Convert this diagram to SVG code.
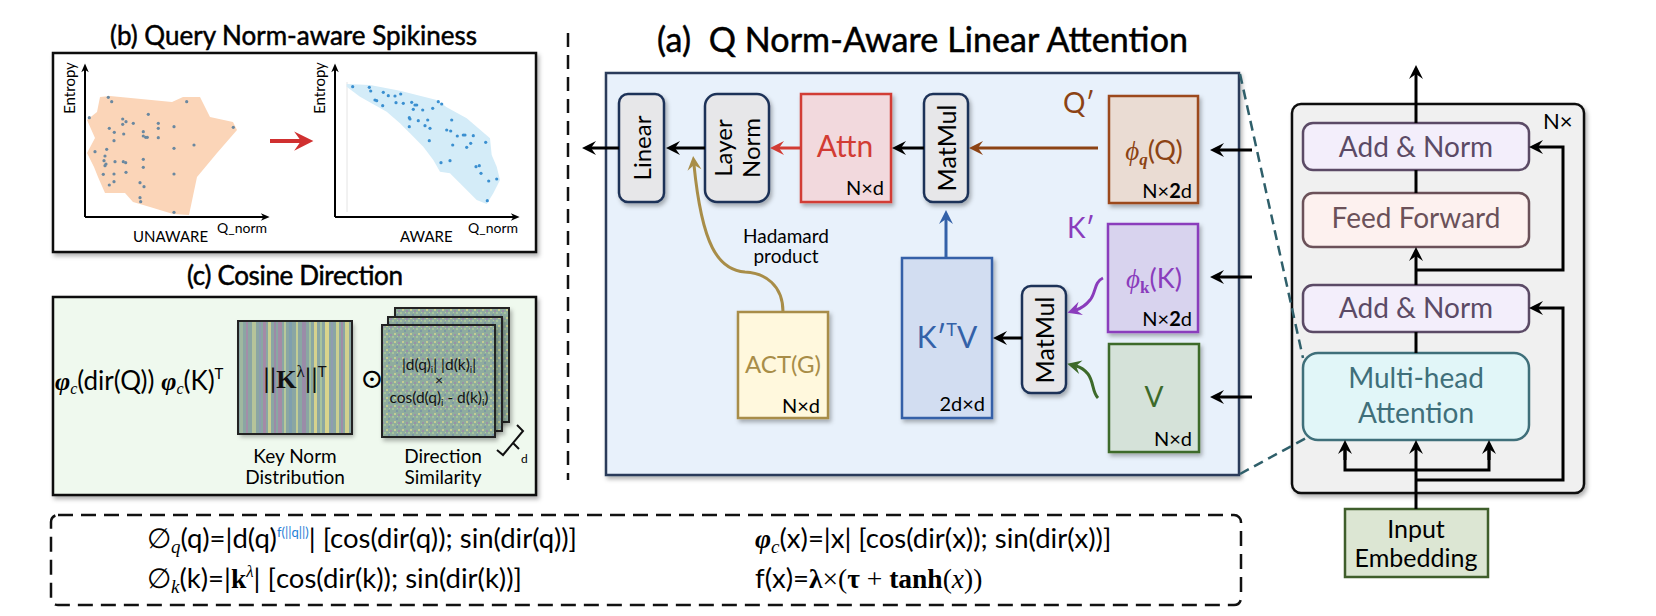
<svg xmlns="http://www.w3.org/2000/svg" width="1656" height="616" viewBox="0 0 1656 616">
<defs>
<filter id="sh" x="-15%" y="-15%" width="140%" height="140%"><feDropShadow dx="2" dy="3" stdDeviation="2" flood-color="#000" flood-opacity="0.3"/></filter>
<marker id="ak" viewBox="0 0 16 16" refX="6" refY="8" markerWidth="16" markerHeight="16" orient="auto" markerUnits="userSpaceOnUse"><path d="M1,1 L15,8 L1,15 L6,8 z" fill="#000"/></marker>
<marker id="ar" viewBox="0 0 16 16" refX="6" refY="8" markerWidth="16" markerHeight="16" orient="auto" markerUnits="userSpaceOnUse"><path d="M1,1 L15,8 L1,15 L6,8 z" fill="#d23c34"/></marker>
<marker id="abr" viewBox="0 0 16 16" refX="6" refY="8" markerWidth="16" markerHeight="16" orient="auto" markerUnits="userSpaceOnUse"><path d="M1,1 L15,8 L1,15 L6,8 z" fill="#8c4314"/></marker>
<marker id="abl" viewBox="0 0 16 16" refX="6" refY="8" markerWidth="16" markerHeight="16" orient="auto" markerUnits="userSpaceOnUse"><path d="M1,1 L15,8 L1,15 L6,8 z" fill="#3461a8"/></marker>
<marker id="ap" viewBox="0 0 16 16" refX="6" refY="8" markerWidth="16" markerHeight="16" orient="auto" markerUnits="userSpaceOnUse"><path d="M1,1 L15,8 L1,15 L6,8 z" fill="#8a3cbc"/></marker>
<marker id="ag" viewBox="0 0 16 16" refX="6" refY="8" markerWidth="16" markerHeight="16" orient="auto" markerUnits="userSpaceOnUse"><path d="M1,1 L15,8 L1,15 L6,8 z" fill="#3d6a2a"/></marker>
<marker id="ay" viewBox="0 0 16 16" refX="6" refY="8" markerWidth="16" markerHeight="16" orient="auto" markerUnits="userSpaceOnUse"><path d="M1,1 L15,8 L1,15 L6,8 z" fill="#a88d48"/></marker>
<marker id="as" viewBox="0 0 16 16" refX="6" refY="8" markerWidth="10" markerHeight="10" orient="auto" markerUnits="userSpaceOnUse"><path d="M1,2 L15,8 L1,14 L5,8 z" fill="#000"/></marker>
<marker id="ared" viewBox="0 0 16 16" refX="6" refY="8" markerWidth="22" markerHeight="22" orient="auto" markerUnits="userSpaceOnUse"><path d="M1,1 L15,8 L1,15 L6,8 z" fill="#d03030"/></marker>
<pattern id="noise" width="8" height="8" patternUnits="userSpaceOnUse">
<rect width="8" height="8" fill="#8fac9e"/>
<rect x="0" y="0" width="2" height="2" fill="#a7c39b"/>
<rect x="4" y="2" width="2" height="2" fill="#7d97a6"/>
<rect x="2" y="5" width="2" height="2" fill="#c4cd92"/>
<rect x="6" y="6" width="2" height="2" fill="#9a90a8"/>
<rect x="5" y="0" width="1" height="1" fill="#b3c99c"/>
</pattern>
</defs>
<style>
.f{font-family:Lato,"Liberation Sans",sans-serif}
.m{font-family:"Liberation Serif","DejaVu Serif",serif}
.ttl{stroke:#000;stroke-width:0.5}
.ln{fill:none;stroke-width:3}
.gb{fill:#e7e7e9;stroke:#1f3358;stroke-width:2.5}
.an{fill:#f3eefb;stroke:#5b4a66;stroke-width:2.5}
.ant{fill:#5b4a66;font-size:28px}
.dot1{fill:#6a88a0}
.dot2{fill:#3a8fd0}
</style>
<rect width="1656" height="616" fill="#fff"/>

<!-- Titles -->
<text class="f ttl" x="110" y="45" font-size="26" textLength="367">(b) Query Norm-aware Spikiness</text>
<text class="f ttl" x="187" y="285" font-size="26" textLength="216">(c) Cosine Direction</text>
<text class="f ttl" x="657" y="52" font-size="34" textLength="531" xml:space="preserve">(a)  Q Norm-Aware Linear Attention</text>

<!-- divider -->
<line x1="568" y1="33" x2="568" y2="480" stroke="#111" stroke-width="2.5" stroke-dasharray="14 8"/>

<!-- Panel b -->
<g id="panel-b">
<rect x="53" y="53" width="483" height="199" fill="#fff" stroke="#111" stroke-width="2.5" filter="url(#sh)"/>
<polygon fill="#fbd5b8" points="100,97 110,96 172,102 183,97 200,97 210,117 233,122 237,130 217,153 197,177 189,215 173,214 150,207 133,202 125,193 105,193 98,177 94,167 87,153 95,138 87,120 97,112"/>
<g class="dot1">
<circle cx="108.3" cy="97.3" r="1.6"/><circle cx="111.7" cy="101.7" r="1.6"/><circle cx="89.3" cy="117.7" r="1.6"/><circle cx="186.7" cy="101.7" r="1.6"/><circle cx="148.3" cy="114.3" r="1.6"/><circle cx="122.7" cy="119" r="1.6"/><circle cx="126" cy="121.7" r="1.6"/><circle cx="122.7" cy="124.3" r="1.6"/><circle cx="133.3" cy="123.3" r="1.6"/><circle cx="158.3" cy="123.3" r="1.6"/><circle cx="158.3" cy="128.3" r="1.6"/><circle cx="174" cy="126.7" r="1.6"/><circle cx="233.3" cy="127.3" r="1.6"/><circle cx="109.3" cy="128.3" r="1.6"/><circle cx="114.3" cy="132.3" r="1.6"/><circle cx="123.7" cy="134" r="1.6"/><circle cx="143.3" cy="131.7" r="1.6"/><circle cx="145.7" cy="137.3" r="1.6"/><circle cx="143.3" cy="136" r="1.6"/><circle cx="147.3" cy="137.3" r="1.6"/><circle cx="158.3" cy="137.7" r="1.6"/><circle cx="114" cy="140.7" r="1.6"/><circle cx="174" cy="148.3" r="1.6"/><circle cx="194" cy="145" r="1.6"/><circle cx="95" cy="151.7" r="1.6"/><circle cx="106.7" cy="149.3" r="1.6"/><circle cx="105" cy="156" r="1.6"/><circle cx="104" cy="160.7" r="1.6"/><circle cx="106" cy="164" r="1.6"/><circle cx="105" cy="165.7" r="1.6"/><circle cx="115" cy="161.7" r="1.6"/><circle cx="123.3" cy="161.7" r="1.6"/><circle cx="125.7" cy="162.7" r="1.6"/><circle cx="143.3" cy="159.3" r="1.6"/><circle cx="143.3" cy="167.3" r="1.6"/><circle cx="103.3" cy="174.3" r="1.6"/><circle cx="114" cy="174" r="1.6"/><circle cx="126" cy="172.3" r="1.6"/><circle cx="174" cy="174" r="1.6"/><circle cx="114" cy="181.7" r="1.6"/><circle cx="109.3" cy="185" r="1.6"/><circle cx="140" cy="182.7" r="1.6"/><circle cx="144" cy="186.7" r="1.6"/><circle cx="140" cy="197.7" r="1.6"/><circle cx="140.7" cy="201.7" r="1.6"/><circle cx="174" cy="212.3" r="1.6"/>
</g>
<line x1="85" y1="217" x2="264" y2="217" stroke="#000" stroke-width="2" marker-end="url(#as)"/>
<line x1="85" y1="217" x2="85" y2="69" stroke="#000" stroke-width="2" marker-end="url(#as)"/>
<text class="f" transform="translate(75,88) rotate(-90)" text-anchor="middle" font-size="15">Entropy</text>
<text class="f" x="133" y="242" font-size="15">UNAWARE</text>
<text class="f" x="217" y="233" font-size="14">Q_norm</text>
<line x1="270" y1="141" x2="301" y2="141" stroke="#d03030" stroke-width="4" marker-end="url(#ared)"/>
<line x1="347" y1="82" x2="347" y2="212" stroke="#e4e4e4" stroke-width="1"/>
<polygon fill="#d4ecf8" points="346.7,84 370,85 400,90.7 436.7,100 446.7,107.3 466.7,118.3 490,138.3 491.7,155 496.7,166.7 500,180 493.3,193.3 486.7,204 476.7,200 460,183.3 450,173.3 440,171.7 433.3,160 423.3,146.7 410,133.3 400,123.3 386.7,111.7 360,96.7 346.7,86.7"/>
<g class="dot2">
<circle cx="352.7" cy="86.7" r="1.6"/><circle cx="369.3" cy="87.3" r="1.6"/><circle cx="370.7" cy="91" r="1.6"/><circle cx="383.3" cy="92.3" r="1.6"/><circle cx="388.3" cy="95.7" r="1.6"/><circle cx="395" cy="96" r="1.6"/><circle cx="400.7" cy="94" r="1.6"/><circle cx="375" cy="100" r="1.6"/><circle cx="376.7" cy="100.7" r="1.6"/><circle cx="382.7" cy="105.7" r="1.6"/><circle cx="396" cy="102.7" r="1.6"/><circle cx="403.3" cy="103.3" r="1.6"/><circle cx="411.7" cy="102.3" r="1.6"/><circle cx="415" cy="105" r="1.6"/><circle cx="416.7" cy="105" r="1.6"/><circle cx="413.3" cy="109.3" r="1.6"/><circle cx="422.7" cy="110" r="1.6"/><circle cx="432.7" cy="108.3" r="1.6"/><circle cx="438.3" cy="101.7" r="1.6"/><circle cx="441.7" cy="104" r="1.6"/><circle cx="409.3" cy="117.7" r="1.6"/><circle cx="410" cy="119" r="1.6"/><circle cx="418.3" cy="120.7" r="1.6"/><circle cx="427.7" cy="120" r="1.6"/><circle cx="451.7" cy="120" r="1.6"/><circle cx="409.3" cy="126.7" r="1.6"/><circle cx="425" cy="125.7" r="1.6"/><circle cx="430" cy="128.3" r="1.6"/><circle cx="446.7" cy="130" r="1.6"/><circle cx="450.7" cy="131" r="1.6"/><circle cx="429.3" cy="140.7" r="1.6"/><circle cx="457.3" cy="136" r="1.6"/><circle cx="463.3" cy="135" r="1.6"/><circle cx="465" cy="135" r="1.6"/><circle cx="473.3" cy="135.7" r="1.6"/><circle cx="452.7" cy="145" r="1.6"/><circle cx="470.7" cy="143.3" r="1.6"/><circle cx="466.7" cy="147.3" r="1.6"/><circle cx="485.7" cy="142.3" r="1.6"/><circle cx="441" cy="162.7" r="1.6"/><circle cx="450" cy="160.7" r="1.6"/><circle cx="476" cy="166.7" r="1.6"/><circle cx="479.3" cy="165.7" r="1.6"/><circle cx="481" cy="173.3" r="1.6"/><circle cx="488.7" cy="181" r="1.6"/><circle cx="496.7" cy="179" r="1.6"/><circle cx="487.3" cy="200.7" r="1.6"/>
</g>
<line x1="335" y1="217" x2="335" y2="69" stroke="#000" stroke-width="2" marker-end="url(#as)"/>
<line x1="335" y1="217" x2="514" y2="217" stroke="#000" stroke-width="2" marker-end="url(#as)"/>
<text class="f" transform="translate(325,88) rotate(-90)" text-anchor="middle" font-size="15">Entropy</text>
<text class="f" x="400" y="242" font-size="15">AWARE</text>
<text class="f" x="468" y="233" font-size="14">Q_norm</text>
</g>

<!-- Panel c -->
<g id="panel-c">
<rect x="53" y="297" width="483" height="198" fill="#eff9ee" stroke="#111" stroke-width="2.5" filter="url(#sh)"/>
<text class="f" x="55" y="390" font-size="26"><tspan class="m" font-weight="bold" font-style="italic">φ</tspan><tspan class="m" font-style="italic" font-size="16" dy="4">c</tspan><tspan dy="-4">(dir(Q)) </tspan><tspan class="m" font-weight="bold" font-style="italic">φ</tspan><tspan class="m" font-style="italic" font-size="16" dy="4">c</tspan><tspan dy="-4">(K)</tspan><tspan font-size="15" dy="-11">T</tspan></text>
<g id="keynorm">
<rect x="238" y="321" width="114" height="113" fill="#8aa6a3" filter="url(#sh)"/>
<rect x="240" y="321" width="3" height="113" fill="#9fb8a0"/>
<rect x="246" y="321" width="2" height="113" fill="#a38ea8"/>
<rect x="252" y="321" width="4" height="113" fill="#b5c49a"/>
<rect x="259" y="321" width="2" height="113" fill="#8c9db0"/>
<rect x="263" y="321" width="3" height="113" fill="#a48ba6"/>
<rect x="268" y="321" width="3" height="113" fill="#c9cf92"/>
<rect x="274" y="321" width="2" height="113" fill="#9c8aa6"/>
<rect x="278" y="321" width="4" height="113" fill="#a48ba6"/>
<rect x="284" y="321" width="2" height="113" fill="#b8c89a"/>
<rect x="289" y="321" width="3" height="113" fill="#7f9fae"/>
<rect x="296" y="321" width="2" height="113" fill="#c2cc95"/>
<rect x="302" y="321" width="4" height="113" fill="#9a8ca8"/>
<rect x="309" y="321" width="2" height="113" fill="#a7c29a"/>
<rect x="314" y="321" width="3" height="113" fill="#d6d28e"/>
<rect x="320" y="321" width="2" height="113" fill="#a9c39d"/>
<rect x="325" y="321" width="4" height="113" fill="#d9d48c"/>
<rect x="331" y="321" width="2" height="113" fill="#8f9db0"/>
<rect x="336" y="321" width="3" height="113" fill="#cbd090"/>
<rect x="341" y="321" width="2" height="113" fill="#a08da7"/>
<rect x="345" y="321" width="4" height="113" fill="#d2d18e"/>
<rect x="238" y="321" width="114" height="113" fill="none" stroke="#222" stroke-width="2"/>
<text x="295" y="388" text-anchor="middle" font-size="26" fill="#111"><tspan class="f">||</tspan><tspan class="m" font-weight="bold">K</tspan><tspan class="m" font-size="17" dy="-11">λ</tspan><tspan class="f" dy="11">||</tspan><tspan class="f" font-size="15" dy="-11">T</tspan></text>
</g>
<text class="m" x="372" y="388" text-anchor="middle" font-size="28">⊙</text>
<g id="dirsim">
<rect x="395" y="308" width="114" height="114" fill="url(#noise)" stroke="#222" stroke-width="2" filter="url(#sh)"/>
<rect x="388" y="317" width="114" height="114" fill="url(#noise)" stroke="#222" stroke-width="2" filter="url(#sh)"/>
<rect x="382" y="325" width="113" height="112" fill="url(#noise)" stroke="#222" stroke-width="2" filter="url(#sh)"/>
<text class="f" x="439" y="370" text-anchor="middle" font-size="15.5" fill="#111">|d(q)<tspan font-size="10" dy="3">i</tspan><tspan dy="-3">| |d(k)</tspan><tspan font-size="10" dy="3">i</tspan><tspan dy="-3">|</tspan></text>
<text class="f" x="439" y="385" text-anchor="middle" font-size="14" fill="#111">×</text>
<text class="f" x="439" y="403" text-anchor="middle" font-size="15.5" fill="#111">cos(d(q)<tspan font-size="10" dy="3">i</tspan><tspan dy="-3"> - d(k)</tspan><tspan font-size="10" dy="3">i</tspan><tspan dy="-3">)</tspan></text>
<path d="M517,425 L523,431 L503,455 L497,450 M513,443 L519,449" fill="none" stroke="#111" stroke-width="2"/>
<text class="f" x="521" y="463" font-size="12">d</text>
</g>
<text class="f" x="295" y="463" text-anchor="middle" font-size="19">Key Norm</text>
<text class="f" x="295" y="484" text-anchor="middle" font-size="19">Distribution</text>
<text class="f" x="443" y="463" text-anchor="middle" font-size="19">Direction</text>
<text class="f" x="443" y="484" text-anchor="middle" font-size="19">Similarity</text>
</g>

<!-- Panel a -->
<g id="panel-a">
<rect x="606" y="73" width="633" height="402" fill="#e8f1fb" stroke="#2a3b5a" stroke-width="2.5" filter="url(#sh)"/>
</g>
<g id="linear">
<rect x="619" y="94" width="45" height="108" rx="9" class="gb" filter="url(#sh)"/>
<text class="f" transform="translate(651,148) rotate(-90)" text-anchor="middle" font-size="24">Linear</text>
</g>
<g id="layernorm">
<rect x="705" y="94" width="64" height="108" rx="12" class="gb" filter="url(#sh)"/>
<text class="f" transform="translate(732,148) rotate(-90)" text-anchor="middle" font-size="24">Layer</text>
<text class="f" transform="translate(760,148) rotate(-90)" text-anchor="middle" font-size="24">Norm</text>
</g>
<g id="attn">
<rect x="801" y="94" width="90" height="108" fill="#f2d9dd" stroke="#d23c34" stroke-width="2.5" filter="url(#sh)"/>
<text class="f" x="845" y="157" text-anchor="middle" font-size="30" fill="#d23c34">Attn</text>
<text class="f" x="884" y="195" text-anchor="end" font-size="20">N×d</text>
</g>
<g id="matmul1">
<rect x="924" y="94" width="44" height="108" rx="9" class="gb" filter="url(#sh)"/>
<text class="f" transform="translate(956,148) rotate(-90)" text-anchor="middle" font-size="25">MatMul</text>
</g>
<g id="phiq">
<text class="f" x="1063" y="113" font-size="28" fill="#8c4314">Q′</text>
<rect x="1109" y="96" width="89" height="107" fill="#eadcd3" stroke="#9c4a1c" stroke-width="2.5" filter="url(#sh)"/>
<text x="1154" y="160" text-anchor="middle" font-size="27" fill="#8c4314"><tspan class="m" font-style="italic">ϕ</tspan><tspan class="m" font-weight="bold" font-style="italic" font-size="17" dy="5">q</tspan><tspan class="f" dy="-5">(Q)</tspan></text>
<text class="f" x="1192" y="198" text-anchor="end" font-size="20">N×<tspan font-weight="bold">2</tspan>d</text>
</g>
<g id="phik">
<text class="f" x="1067" y="238" font-size="28" fill="#8a3cbc">K′</text>
<rect x="1108" y="224" width="90" height="108" fill="#d8d3ee" stroke="#8a3cbc" stroke-width="2.5" filter="url(#sh)"/>
<text x="1154" y="288" text-anchor="middle" font-size="27" fill="#8a3cbc"><tspan class="m" font-style="italic">ϕ</tspan><tspan class="m" font-weight="bold" font-size="17" dy="5">k</tspan><tspan class="f" dy="-5">(K)</tspan></text>
<text class="f" x="1192" y="326" text-anchor="end" font-size="20">N×<tspan font-weight="bold">2</tspan>d</text>
</g>
<g id="v">
<rect x="1109" y="344" width="90" height="108" fill="#d5e2d9" stroke="#3d6a2a" stroke-width="2.5" filter="url(#sh)"/>
<text class="f" x="1154" y="407" text-anchor="middle" font-size="28" fill="#3d6a2a">V</text>
<text class="f" x="1192" y="446" text-anchor="end" font-size="20">N×d</text>
</g>
<g id="matmul2">
<rect x="1022" y="286" width="44" height="107" rx="9" class="gb" filter="url(#sh)"/>
<text class="f" transform="translate(1054,340) rotate(-90)" text-anchor="middle" font-size="25">MatMul</text>
</g>
<g id="ktv">
<rect x="902" y="258" width="90" height="160" fill="#d2ddf1" stroke="#3461a8" stroke-width="2.5" filter="url(#sh)"/>
<text class="f" x="947" y="348" text-anchor="middle" font-size="30" fill="#3461a8">K′<tspan font-size="18" dy="-12">T</tspan><tspan dy="12">V</tspan></text>
<text class="f" x="985" y="411" text-anchor="end" font-size="20">2d×d</text>
</g>
<g id="actg">
<rect x="738" y="312" width="90" height="106" fill="#fff8dd" stroke="#a88d48" stroke-width="2.5" filter="url(#sh)"/>
<text class="f" x="783" y="373" text-anchor="middle" font-size="24" fill="#a88d48">ACT(G)</text>
<text class="f" x="820" y="413" text-anchor="end" font-size="20">N×d</text>
</g>
<text class="f" x="786" y="243" text-anchor="middle" font-size="19">Hadamard</text>
<text class="f" x="786" y="263" text-anchor="middle" font-size="19">product</text>

<!-- Transformer -->
<g id="encoder">
<rect x="1292" y="104" width="292" height="389" rx="9" fill="#f0f0f0" stroke="#111" stroke-width="2.5" filter="url(#sh)"/>
<text class="f" x="1543" y="129" font-size="22">N×</text>
</g>
<g id="addnorm2">
<rect x="1303" y="123" width="226" height="47" rx="10" class="an"/>
<text class="f ant" x="1416" y="157" text-anchor="middle">Add &amp; Norm</text>
</g>
<g id="ff">
<rect x="1303" y="193" width="226" height="54" rx="10" fill="#fdf1ef" stroke="#6b5159" stroke-width="2.5"/>
<text class="f" x="1416" y="228" text-anchor="middle" font-size="28" fill="#6b5159">Feed Forward</text>
</g>
<g id="addnorm1">
<rect x="1303" y="285" width="226" height="47" rx="10" class="an"/>
<text class="f ant" x="1416" y="318" text-anchor="middle">Add &amp; Norm</text>
</g>
<g id="mha">
<rect x="1303" y="353" width="226" height="87" rx="15" fill="#e1f6f8" stroke="#3f6f7a" stroke-width="2.5"/>
<text class="f" x="1416" y="388" text-anchor="middle" font-size="28" fill="#3f6f7a">Multi-head</text>
<text class="f" x="1416" y="423" text-anchor="middle" font-size="28" fill="#3f6f7a">Attention</text>
</g>
<g id="input">
<rect x="1345" y="509" width="143" height="68" fill="#dce6d3" stroke="#3f5e2b" stroke-width="2.5"/>
<text class="f" x="1416" y="538" text-anchor="middle" font-size="25">Input</text>
<text class="f" x="1416" y="567" text-anchor="middle" font-size="25">Embedding</text>
</g>

<!-- connectors -->
<g id="connectors">
<line x1="619" y1="148" x2="591" y2="148" class="ln" stroke="#000" marker-end="url(#ak)"/>
<line x1="705" y1="148" x2="675" y2="148" class="ln" stroke="#000" marker-end="url(#ak)"/>
<line x1="801" y1="148" x2="779" y2="148" class="ln" stroke="#d23c34" marker-end="url(#ar)"/>
<line x1="924" y1="148" x2="901" y2="148" class="ln" stroke="#000" marker-end="url(#ak)"/>
<line x1="1098" y1="148" x2="978" y2="148" class="ln" stroke="#8c4314" marker-end="url(#abr)"/>
<line x1="1252" y1="150" x2="1219" y2="150" class="ln" stroke="#000" marker-end="url(#ak)"/>
<line x1="1252" y1="277" x2="1219" y2="277" class="ln" stroke="#000" marker-end="url(#ak)"/>
<line x1="1252" y1="397" x2="1219" y2="397" class="ln" stroke="#000" marker-end="url(#ak)"/>
<line x1="1022" y1="338" x2="1002" y2="338" class="ln" stroke="#000" marker-end="url(#ak)"/>
<line x1="946" y1="258" x2="946" y2="219" class="ln" stroke="#3461a8" marker-end="url(#abl)"/>
<path d="M783,312 C783,285 765,273 745,272 C718,270 702,245 694,165" class="ln" stroke="#a88d48" marker-end="url(#ay)"/>
<path d="M1103,278 C1094,282 1096,293 1090,300 C1086,305 1082,308 1076,310" class="ln" stroke="#8a3cbc" marker-end="url(#ap)"/>
<path d="M1098,398 C1092,392 1094,382 1088,374 C1084,369 1080,367 1076,366" class="ln" stroke="#3d6a2a" marker-end="url(#ag)"/>
<line x1="1240" y1="74" x2="1303" y2="358" stroke="#2f5f6a" stroke-width="2.5" stroke-dasharray="10 6"/>
<line x1="1240" y1="474" x2="1308" y2="437" stroke="#2f5f6a" stroke-width="2.5" stroke-dasharray="10 6"/>
<line x1="1416" y1="123" x2="1416" y2="74" class="ln" stroke="#000" marker-end="url(#ak)"/>
<line x1="1416" y1="170" x2="1416" y2="193" class="ln" stroke="#000"/>
<line x1="1416" y1="285" x2="1416" y2="256" class="ln" stroke="#000" marker-end="url(#ak)"/>
<polyline points="1416,270 1563,270 1563,147 1538,147" class="ln" stroke="#000" marker-end="url(#ak)"/>
<line x1="1416" y1="353" x2="1416" y2="332" class="ln" stroke="#000"/>
<polyline points="1416,480 1563,480 1563,308 1538,308" class="ln" stroke="#000" marker-end="url(#ak)"/>
<line x1="1416" y1="509" x2="1416" y2="449" class="ln" stroke="#000" marker-end="url(#ak)"/>
<polyline points="1345,449 1345,470 1489,470 1489,449" class="ln" stroke="#000"/>
<line x1="1345" y1="460" x2="1345" y2="449" class="ln" stroke="#000" marker-end="url(#ak)"/>
<line x1="1489" y1="460" x2="1489" y2="449" class="ln" stroke="#000" marker-end="url(#ak)"/>
</g>

<!-- formula box -->
<g id="formulas">
<rect x="51" y="515" width="1190" height="90" rx="7" fill="none" stroke="#111" stroke-width="2.5" stroke-dasharray="15 8"/>
<text class="f" x="147" y="548" font-size="27.5">∅<tspan class="m" font-style="italic" font-size="19" dy="5">q</tspan><tspan dy="-5">(q)=|d(q)</tspan><tspan font-size="13" fill="#1e7ed6" dy="-11">f(||q||)</tspan><tspan dy="11">| [cos(dir(q)); sin(dir(q))]</tspan></text>
<text class="f" x="147" y="588" font-size="27.5">∅<tspan class="m" font-style="italic" font-size="19" dy="5">k</tspan><tspan dy="-5">(k)=|</tspan><tspan class="m" font-weight="bold">k</tspan><tspan class="m" font-style="italic" font-size="17" dy="-11">λ</tspan><tspan dy="11">| [cos(dir(k)); sin(dir(k))]</tspan></text>
<text class="f" x="755" y="548" font-size="27.5"><tspan class="m" font-weight="bold" font-style="italic">φ</tspan><tspan class="m" font-style="italic" font-size="19" dy="5">c</tspan><tspan dy="-5">(x)=|x| [cos(dir(x)); sin(dir(x))]</tspan></text>
<text class="f" x="755" y="588" font-size="27.5">f(x)=<tspan class="m" font-weight="bold">λ</tspan><tspan class="m">×(</tspan><tspan class="m" font-weight="bold">τ</tspan><tspan class="m"> + </tspan><tspan class="m" font-weight="bold">tanh</tspan><tspan class="m">(</tspan><tspan class="m" font-style="italic">x</tspan><tspan class="m">))</tspan></text>
</g>
</svg>
